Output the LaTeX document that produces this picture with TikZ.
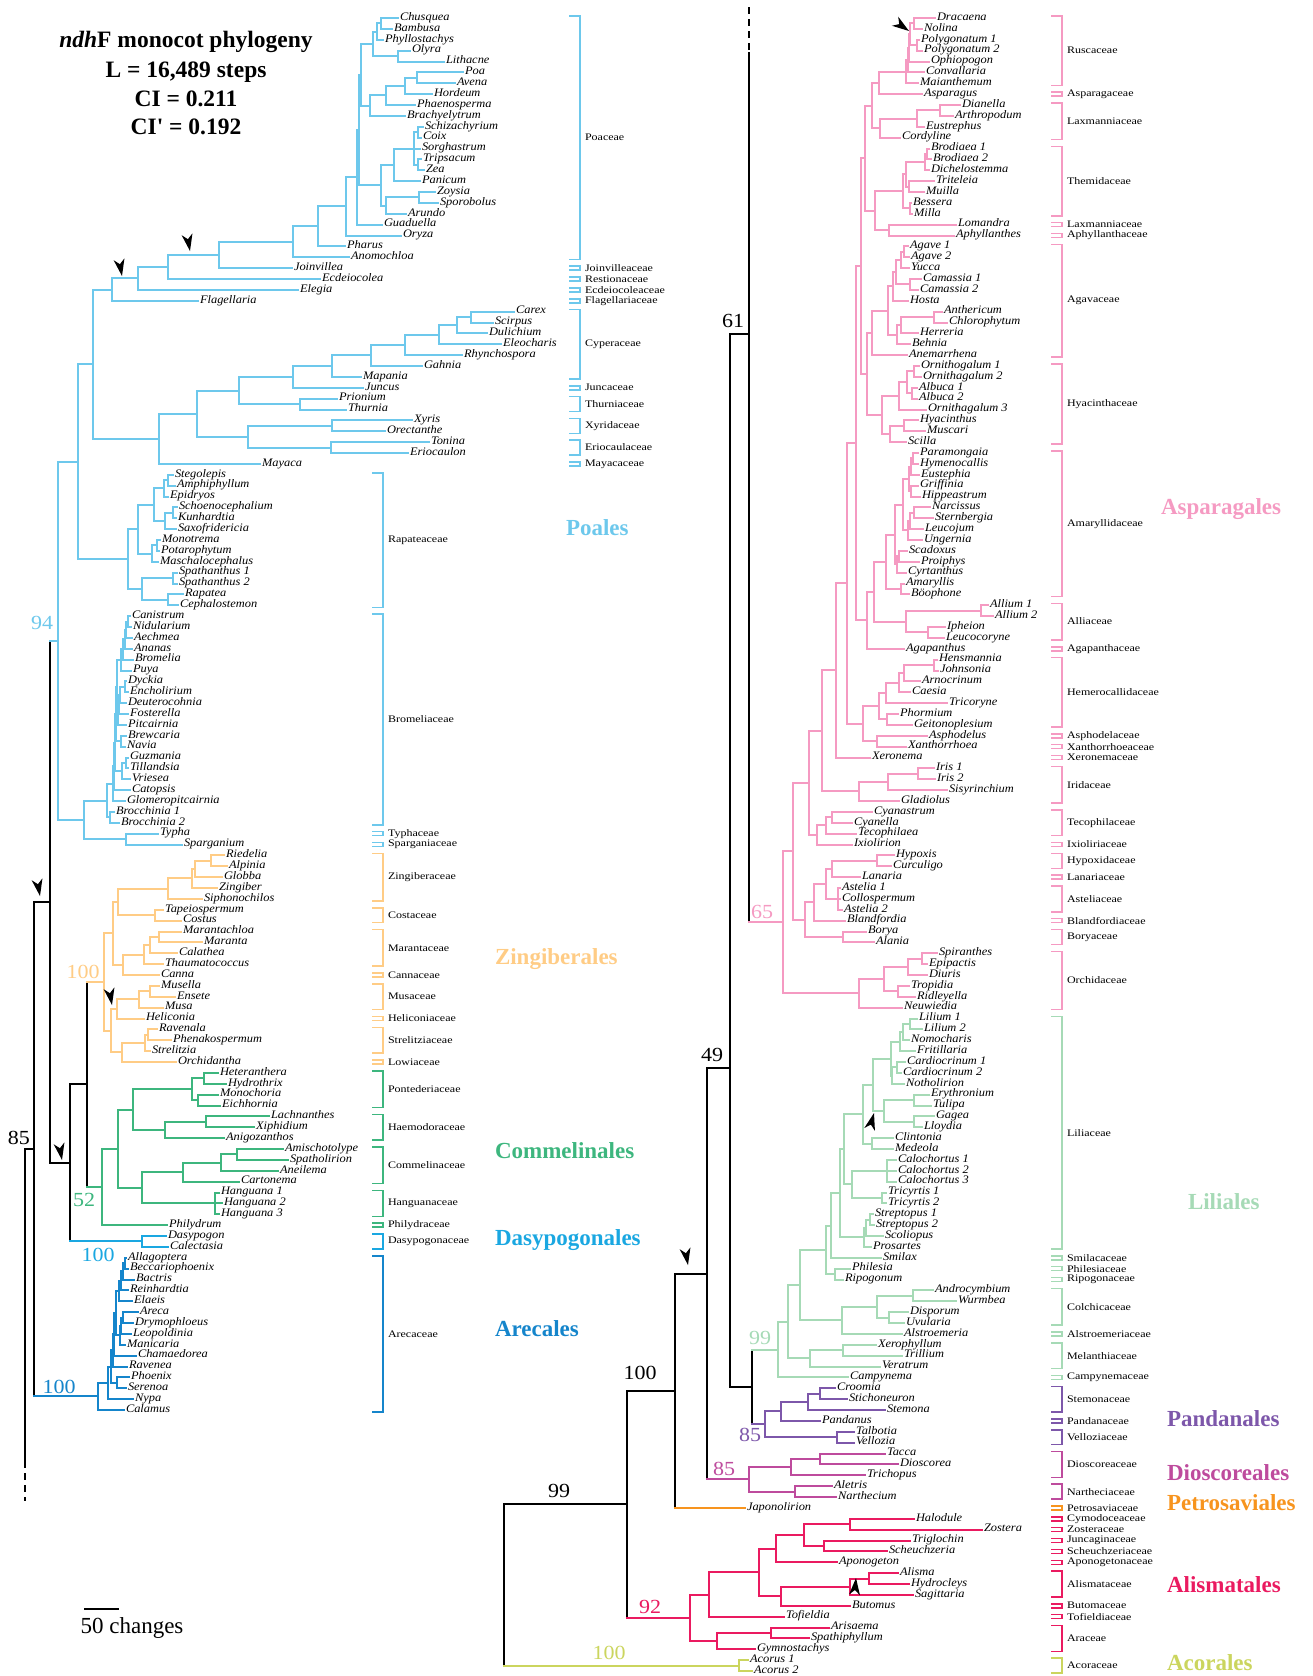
\documentclass[tikz,border=0pt]{standalone}
\usepackage{fontspec}
\setmainfont{Liberation Serif}
\newfontfamily\taxfont[FakeStretch=1.08]{Liberation Serif}
\newfontfamily\famfont[FakeStretch=1.2]{Liberation Serif}
\newfontfamily\numfont[FakeStretch=1.1]{Liberation Serif}
\usetikzlibrary{calc}

\definecolor{cpoal}{HTML}{6DC8EC}
\definecolor{czing}{HTML}{FFCC85}
\definecolor{ccomm}{HTML}{3DB67E}
\definecolor{cdasy}{HTML}{1AA7E1}
\definecolor{carec}{HTML}{1585CB}
\definecolor{caspa}{HTML}{F59AC2}
\definecolor{clili}{HTML}{A6DAB6}
\definecolor{cpand}{HTML}{7D57AA}
\definecolor{cdios}{HTML}{BE4B9D}
\definecolor{cpetr}{HTML}{F7941E}
\definecolor{calis}{HTML}{EA1A60}
\definecolor{cacor}{HTML}{CBD55E}

\newcount\rw
\newcount\fc
% leaf: name, x of tip, taxon (rows counted)
\newcommand\lf[3]{\global\advance\rw by 1
  \node[taxon] (#1) at (#2,{7.125+10.875*\the\rw}) {#3};}
% internal node: name, x, first child, last child
\newcommand\nd[4]{\path let \p1=(#3), \p2=(#4) in coordinate (#1) at ({#2pt},{0.5*(\y1+\y2)});
  \draw (#1 |- #3) -- (#1 |- #4);}
% branch from parent to child
\newcommand\st[2]{\draw (#1 |- #2) -- (#2);}
% clade: name, x, children
\newcommand\cl[3]{%
  \foreach \c [count=\i] in {#3}{\ifnum\i=1 \xdef\clf{\c}\fi\xdef\cll{\c}}%
  \edef\tmp{\noexpand\nd{#1}{#2}{\clf}{\cll}}\tmp
  \foreach \c in {#3}{\edef\tmp{\noexpand\st{#1}{\c}}\tmp}}
% family bracket: x, first row, last row, name
\newcommand\fm[4]{\global\advance\fc by 1
  \draw[famline] ({#1-10},{5.125+10.875*#2}) -- (#1,{5.125+10.875*#2})
    -- (#1,{9.125+10.875*#3}) -- ({#1-10},{9.125+10.875*#3});
  \node[fam] (fam\the\fc) at ({#1+4},{7.125+10.875*(#2+#3)/2}) {#4};}
% arrowhead marker: x, y, angle
\newcommand\mk[3]{\fill[black,shift={(#1,#2)},rotate=#3]
  (0pt,0pt) -- (-17pt,5.5pt) -- (-12pt,0pt) -- (-17pt,-5.5pt) -- cycle;}

\begin{document}
\begin{tikzpicture}[x=1pt,y=-1pt,line width=2pt,line cap=rect,
    taxon/.style={anchor=west,inner sep=1pt,text=black,text height=1.2ex,text depth=0.2ex,
      font=\taxfont\itshape\fontsize{11.5}{12}\selectfont},
    fam/.style={anchor=west,inner sep=0pt,text=black,
      font=\famfont\fontsize{10}{11}\selectfont},
    famline/.style={line width=1.5pt},
    order/.style={anchor=west,inner sep=0pt,font=\bfseries\fontsize{23}{25}\selectfont},
    bs/.style={inner sep=0pt,font=\numfont\fontsize{20}{22}\selectfont},
    ttl/.style={inner sep=0pt,font=\bfseries\fontsize{23.5}{26}\selectfont}]
  \useasboundingbox (0,0) rectangle (1313,1676);

  \node[ttl] (t1) at (186,42) {\textit{ndh}F monocot phylogeny};
  \node[ttl] (t2) at (186,72) {L = 16,489 steps};
  \node[ttl] (t3) at (186,99) {CI = 0.211};
  \node[ttl] (t4) at (186,127) {CI\textquotesingle{} = 0.192};

  %%% left panel
  \begin{scope}[color=cpoal]
    \lf{chusq}{398}{Chusquea}
    \lf{bambu}{392}{Bambusa}
    \lf{phyll}{383}{Phyllostachys}
    \lf{olyra}{410}{Olyra}
    \lf{litha}{444}{Lithacne}
    \lf{poa}{463}{Poa}
    \lf{avena}{455}{Avena}
    \lf{horde}{432}{Hordeum}
    \lf{phaen}{415}{Phaenosperma}
    \lf{brach}{405}{Brachyelytrum}
    \lf{schiz}{423}{Schizachyrium}
    \lf{coix}{421}{Coix}
    \lf{sorgh}{420}{Sorghastrum}
    \lf{trips}{421}{Tripsacum}
    \lf{zea}{424}{Zea}
    \lf{panic}{420}{Panicum}
    \lf{zoysi}{435}{Zoysia}
    \lf{sporo}{438}{Sporobolus}
    \lf{arund}{406}{Arundo}
    \lf{guadu}{382}{Guaduella}
    \lf{oryza}{401}{Oryza}
    \lf{pharu}{345}{Pharus}
    \lf{anomo}{349}{Anomochloa}
    \lf{joinv}{292}{Joinvillea}
    \lf{ecdei}{320}{Ecdeiocolea}
    \lf{elegi}{298}{Elegia}
    \lf{flage}{198}{Flagellaria}
    \lf{carex}{514}{Carex}
    \lf{scirp}{493}{Scirpus}
    \lf{dulic}{487}{Dulichium}
    \lf{eleoc}{501}{Eleocharis}
    \lf{rhync}{462}{Rhynchospora}
    \lf{gahni}{422}{Gahnia}
    \lf{mapan}{361}{Mapania}
    \lf{juncu}{363}{Juncus}
    \lf{prion}{337}{Prionium}
    \lf{thurn}{346}{Thurnia}
    \lf{xyris}{412}{Xyris}
    \lf{orect}{385}{Orectanthe}
    \lf{tonin}{429}{Tonina}
    \lf{erioc}{408}{Eriocaulon}
    \lf{mayac}{260}{Mayaca}
    \lf{stego}{173}{Stegolepis}
    \lf{amphi}{175}{Amphiphyllum}
    \lf{epidr}{168}{Epidryos}
    \lf{schoe}{177}{Schoenocephalium}
    \lf{kunha}{176}{Kunhardtia}
    \lf{saxof}{176}{Saxofridericia}
    \lf{monot}{160}{Monotrema}
    \lf{potar}{159}{Potarophytum}
    \lf{masch}{158}{Maschalocephalus}
    \lf{spatha}{177}{Spathanthus 1}
    \lf{spathb}{177}{Spathanthus 2}
    \lf{rapat}{183}{Rapatea}
    \lf{cepha}{178}{Cephalostemon}
    \lf{canis}{130}{Canistrum}
    \lf{nidul}{131}{Nidularium}
    \lf{aechm}{132}{Aechmea}
    \lf{anana}{132}{Ananas}
    \lf{brome}{133}{Bromelia}
    \lf{puya}{131}{Puya}
    \lf{dycki}{126}{Dyckia}
    \lf{encho}{128}{Encholirium}
    \lf{deute}{126}{Deuterocohnia}
    \lf{foste}{128}{Fosterella}
    \lf{pitca}{126}{Pitcairnia}
    \lf{brewc}{126}{Brewcaria}
    \lf{navia}{125}{Navia}
    \lf{guzma}{128}{Guzmania}
    \lf{tilla}{128}{Tillandsia}
    \lf{vries}{130}{Vriesea}
    \lf{catop}{130}{Catopsis}
    \lf{glome}{125}{Glomeropitcairnia}
    \lf{brocca}{114}{Brocchinia 1}
    \lf{broccb}{119}{Brocchinia 2}
    \lf{typha}{158}{Typha}
    \lf{sparg}{182}{Sparganium}
    % grasses
    \cl{cb}{381}{chusq,bambu}
    \cl{cbp}{377}{cb,phyll}
    \cl{ol}{398}{olyra,litha}
    \cl{bam}{373}{cbp,ol}
    \cl{pa}{417}{poa,avena}
    \cl{pah}{405}{pa,horde}
    \cl{pahp}{386}{pah,phaen}
    \cl{poo}{370}{pahp,brach}
    \cl{bop}{361}{bam,poo}
    \cl{sc}{418}{schiz,coix}
    \cl{tz}{418}{trips,zea}
    \cl{andr}{414}{sc,sorgh,tz}
    \cl{pani}{394}{andr,panic}
    \cl{zs}{419}{zoysi,sporo}
    \cl{zsa}{386}{zs,arund}
    \cl{pacc}{381}{pani,zsa}
    \cl{bpn}{359}{bop,pacc}
    \cl{bpg}{357}{bpn,guadu}
    \cl{bpgo}{346}{bpg,oryza}
    \cl{phar}{318}{bpgo,pharu}
    \cl{anom}{293}{phar,anomo}
    \cl{join}{219}{anom,joinv}
    \cl{ecd}{168}{join,ecdei}
    \cl{ele}{138}{ecd,elegi}
    \cl{flg}{112}{ele,flage}
    % sedges and allies
    \cl{cs}{471}{carex,scirp}
    \cl{csd}{457}{cs,dulic}
    \cl{cse}{439}{csd,eleoc}
    \cl{csr}{405}{cse,rhync}
    \cl{csg}{371}{csr,gahni}
    \cl{csm}{332}{csg,mapan}
    \cl{cyj}{293}{csm,juncu}
    \cl{prth}{300}{prion,thurn}
    \cl{cjt}{239}{cyj,prth}
    \cl{xo}{332}{xyris,orect}
    \cl{te}{331}{tonin,erioc}
    \cl{xe}{248}{xo,te}
    \cl{cx}{197}{cjt,xe}
    \cl{cxm}{159}{cx,mayac}
    \cl{grc}{93}{flg,cxm}
    % Rapateaceae
    \cl{sa}{168}{stego,amphi}
    \cl{sae}{164}{sa,epidr}
    \cl{sk}{173}{schoe,kunha}
    \cl{sks}{165}{sk,saxof}
    \cl{rab}{154}{sae,sks}
    \cl{mp}{157}{monot,potar}
    \cl{mpm}{152}{mp,masch}
    \cl{rabc}{138}{rab,mpm}
    \cl{spn}{173}{spatha,spathb}
    \cl{rc}{168}{rapat,cepha}
    \cl{sprc}{142}{spn,rc}
    \cl{rap}{128}{rabc,sprc}
    \cl{n78}{78}{grc,rap}
    % Bromeliaceae
    \cl{cn}{128}{canis,nidul}
    \cl{cna}{126}{cn,aechm}
    \cl{cnb}{125}{cna,anana}
    \cl{cnc}{123}{cnb,brome}
    \cl{cnp}{121}{cnc,puya}
    \cl{de}{125}{dycki,encho}
    \cl{ded}{120}{de,deute}
    \cl{def}{119}{ded,foste}
    \cl{dep}{118}{def,pitca}
    \cl{bn}{121}{brewc,navia}
    \cl{gt}{126}{guzma,tilla}
    \cl{gtv}{122}{gt,vries}
    \cl{bra}{117}{cnp,dep}
    \cl{brb}{116}{bra,bn}
    \cl{brc}{115}{brb,gtv}
    \cl{brd}{114}{brc,catop}
    \cl{bre}{113}{brd,glome}
    \cl{bro}{110}{brocca,broccb}
    \cl{brm}{107}{bre,bro}
    \cl{ts}{126}{typha,sparg}
    \cl{bty}{84}{brm,ts}
    \cl{poal}{58}{n78,bty}
    \fm{580}{1}{23}{Poaceae}
    \fm{580}{24}{24}{Joinvilleaceae}
    \fm{580}{25}{25}{Restionaceae}
    \fm{580}{26}{26}{Ecdeiocoleaceae}
    \fm{580}{27}{27}{Flagellariaceae}
    \fm{580}{28}{34}{Cyperaceae}
    \fm{580}{35}{35}{Juncaceae}
    \fm{580}{36}{37}{Thurniaceae}
    \fm{580}{38}{39}{Xyridaceae}
    \fm{580}{40}{41}{Eriocaulaceae}
    \fm{580}{42}{42}{Mayacaceae}
    \fm{383}{43}{55}{Rapateaceae}
    \fm{383}{56}{75}{Bromeliaceae}
    \fm{383}{76}{76}{Typhaceae}
    \fm{383}{77}{77}{Sparganiaceae}
    \node[order] (opoal) at (565,528) {Poales};
    \node[bs] (bs94) at (42,623) {94};
  \end{scope}

  \begin{scope}[color=czing]
    \lf{riede}{224}{Riedelia}
    \lf{alpin}{227}{Alpinia}
    \lf{globb}{222}{Globba}
    \lf{zingi}{217}{Zingiber}
    \lf{sipho}{202}{Siphonochilos}
    \lf{tapei}{163}{Tapeiospermum}
    \lf{costu}{181}{Costus}
    \lf{maran}{181}{Marantachloa}
    \lf{marnt}{202}{Maranta}
    \lf{calat}{177}{Calathea}
    \lf{thaum}{163}{Thaumatococcus}
    \lf{canna}{159}{Canna}
    \lf{musel}{159}{Musella}
    \lf{enset}{175}{Ensete}
    \lf{musa}{163}{Musa}
    \lf{helic}{144}{Heliconia}
    \lf{raven}{157}{Ravenala}
    \lf{phena}{171}{Phenakospermum}
    \lf{strel}{150}{Strelitzia}
    \lf{orchi}{176}{Orchidantha}
    \cl{ra}{211}{riede,alpin}
    \cl{rag}{195}{ra,globb}
    \cl{ragz}{192}{rag,zingi}
    \cl{zgb}{168}{ragz,sipho}
    \cl{tc}{155}{tapei,costu}
    \cl{zc}{118}{zgb,tc}
    \cl{mmn}{159}{maran,marnt}
    \cl{mmc}{150}{mmn,calat}
    \cl{mmt}{144}{mmc,thaum}
    \cl{mca}{123}{mmt,canna}
    \cl{zcmc}{113}{zc,mca}
    \cl{me}{150}{musel,enset}
    \cl{mem}{139}{me,musa}
    \cl{meh}{117}{mem,helic}
    \cl{rp}{148}{raven,phena}
    \cl{rps}{145}{rp,strel}
    \cl{rpo}{122}{rps,orchi}
    \cl{mhso}{111}{meh,rpo}
    \cl{zing}{104}{zcmc,mhso}
    \fm{383}{78}{82}{Zingiberaceae}
    \fm{383}{83}{84}{Costaceae}
    \fm{383}{85}{88}{Marantaceae}
    \fm{383}{89}{89}{Cannaceae}
    \fm{383}{90}{92}{Musaceae}
    \fm{383}{93}{93}{Heliconiaceae}
    \fm{383}{94}{96}{Strelitziaceae}
    \fm{383}{97}{97}{Lowiaceae}
    \node[order] (ozing) at (494,959) {Zingiberales};
    \node[bs] (bs100z) at (83,972) {100};
  \end{scope}

  \begin{scope}[color=ccomm]
    \lf{heter}{218}{Heteranthera}
    \lf{hydro}{226}{Hydrothrix}
    \lf{monoc}{218}{Monochoria}
    \lf{eichh}{220}{Eichhornia}
    \lf{lachn}{269}{Lachnanthes}
    \lf{xiphi}{254}{Xiphidium}
    \lf{anigo}{224}{Anigozanthos}
    \lf{amisc}{283}{Amischotolype}
    \lf{spatl}{288}{Spatholirion}
    \lf{aneil}{278}{Aneilema}
    \lf{carto}{239}{Cartonema}
    \lf{hanga}{219}{Hanguana 1}
    \lf{hangb}{222}{Hanguana 2}
    \lf{hangc}{219}{Hanguana 3}
    \lf{phily}{167}{Philydrum}
    \cl{hh}{204}{heter,hydro}
    \cl{mec}{198}{monoc,eichh}
    \cl{pont}{192}{hh,mec}
    \cl{lx}{206}{lachn,xiphi}
    \cl{lxa}{165}{lx,anigo}
    \cl{ph}{133}{pont,lxa}
    \cl{as}{237}{amisc,spatl}
    \cl{asa}{221}{as,aneil}
    \cl{asc}{183}{asa,carto}
    \cl{hng}{215}{hanga,hangb,hangc}
    \cl{ch}{142}{asc,hng}
    \cl{phch}{118}{ph,ch}
    \cl{comm}{102}{phch,phily}
    \fm{383}{98}{101}{Pontederiaceae}
    \fm{383}{102}{104}{Haemodoraceae}
    \fm{383}{105}{108}{Commelinaceae}
    \fm{383}{109}{111}{Hanguanaceae}
    \fm{383}{112}{112}{Philydraceae}
    \node[order] (ocomm) at (494,1151) {Commelinales};
    \node[bs] (bs52) at (84,1200) {52};
  \end{scope}

  \begin{scope}[color=cdasy]
    \lf{dasyp}{166}{Dasypogon}
    \lf{calec}{168}{Calectasia}
    \cl{dc}{142}{dasyp,calec}
    \fm{383}{113}{114}{Dasypogonaceae}
    \node[order] (odasy) at (494,1240) {Dasypogonales};
    \node[bs] (bs100d) at (98,1255) {100};
  \end{scope}

  \begin{scope}[color=carec]
    \lf{allag}{126}{Allagoptera}
    \lf{becca}{128}{Beccariophoenix}
    \lf{bactr}{134}{Bactris}
    \lf{reinh}{128}{Reinhardtia}
    \lf{elaei}{132}{Elaeis}
    \lf{areca}{138}{Areca}
    \lf{drymo}{133}{Drymophloeus}
    \lf{leopo}{131}{Leopoldinia}
    \lf{manic}{125}{Manicaria}
    \lf{chama}{136}{Chamaedorea}
    \lf{ravne}{127}{Ravenea}
    \lf{phoen}{129}{Phoenix}
    \lf{seren}{126}{Serenoa}
    \lf{nypa}{133}{Nypa}
    \lf{calam}{124}{Calamus}
    \cl{ab}{125}{allag,becca}
    \cl{abb}{123}{ab,bactr}
    \cl{abr}{121}{abb,reinh}
    \cl{abe}{119}{abr,elaei}
    \cl{ad}{123}{areca,drymo}
    \cl{adl}{121}{ad,leopo}
    \cl{adm}{120}{adl,manic}
    \cl{core}{116}{abe,adm}
    \cl{corc}{114}{core,chama}
    \cl{corr}{113}{corc,ravne}
    \cl{ps}{117}{phoen,seren}
    \cl{corp}{111}{corr,ps}
    \cl{corn}{108}{corp,nypa}
    \cl{arec}{98}{corn,calam}
    \fm{383}{115}{129}{Arecaceae}
    \node[order] (oarec) at (494,1329) {Arecales};
    \node[bs] (bs100a) at (59,1387) {100};
  \end{scope}

  % backbone, left
  \nd{nA}{87}{zing}{comm}
  \begin{scope}[color=czing] \st{nA}{zing} \end{scope}
  \begin{scope}[color=ccomm] \st{nA}{comm} \end{scope}
  \nd{nB}{70}{nA}{dc}
  \st{nB}{nA}
  \begin{scope}[color=cdasy] \st{nB}{dc} \end{scope}
  \nd{nP}{50}{poal}{nB}
  \st{nP}{nB}
  \begin{scope}[color=cpoal] \st{nP}{poal} \end{scope}
  \nd{nR}{34}{nP}{arec}
  \st{nR}{nP}
  \begin{scope}[color=carec] \st{nR}{arec} \end{scope}
  \coordinate (lroot) at ([xshift=-9pt]nR);
  \draw (lroot) -- (nR);
  \draw (lroot) -- ([yshift=-312pt]lroot) coordinate (ldash);
  \draw[line cap=butt,dash pattern=on 7pt off 5pt] (ldash) -- ([yshift=-40pt]ldash) coordinate (lend);
  \node[bs] (bs85) at (19,1138) {85};

  \coordinate (sbl) at (84,1609);
  \coordinate (sbr) at (119,1609);
  \draw[line cap=butt] (sbl) -- (sbr);
  \node[inner sep=0pt,font=\fontsize{23}{25}\selectfont] (sbt) at (132,1628) {50 changes};

  %%% right panel
  \global\rw=0
  \begin{scope}[color=caspa]
    \lf{draca}{935}{Dracaena}
    \lf{nolin}{922}{Nolina}
    \lf{polya}{919}{Polygonatum 1}
    \lf{polyb}{922}{Polygonatum 2}
    \lf{ophio}{929}{Ophiopogon}
    \lf{conva}{924}{Convallaria}
    \lf{maian}{918}{Maianthemum}
    \lf{aspar}{922}{Asparagus}
    \lf{diane}{960}{Dianella}
    \lf{arthr}{953}{Arthropodum}
    \lf{eustr}{924}{Eustrephus}
    \lf{cordy}{900}{Cordyline}
    \lf{broda}{929}{Brodiaea 1}
    \lf{brodb}{931}{Brodiaea 2}
    \lf{diche}{929}{Dichelostemma}
    \lf{trite}{934}{Triteleia}
    \lf{muill}{924}{Muilla}
    \lf{besse}{911}{Bessera}
    \lf{milla}{912}{Milla}
    \lf{loman}{956}{Lomandra}
    \lf{aphyl}{954}{Aphyllanthes}
    \lf{agava}{908}{Agave 1}
    \lf{agavb}{909}{Agave 2}
    \lf{yucca}{909}{Yucca}
    \lf{camaa}{921}{Camassia 1}
    \lf{camab}{918}{Camassia 2}
    \lf{hosta}{908}{Hosta}
    \lf{anthe}{942}{Anthericum}
    \lf{chlor}{947}{Chlorophytum}
    \lf{herre}{918}{Herreria}
    \lf{behni}{910}{Behnia}
    \lf{anema}{907}{Anemarrhena}
    \lf{ornia}{919}{Ornithogalum 1}
    \lf{ornib}{921}{Ornithagalum 2}
    \lf{albua}{917}{Albuca 1}
    \lf{albub}{917}{Albuca 2}
    \lf{ornic}{926}{Ornithagalum 3}
    \lf{hyaci}{918}{Hyacinthus}
    \lf{musca}{925}{Muscari}
    \lf{scill}{906}{Scilla}
    \lf{param}{918}{Paramongaia}
    \lf{hymen}{918}{Hymenocallis}
    \lf{euste}{919}{Eustephia}
    \lf{griff}{918}{Griffinia}
    \lf{hippe}{920}{Hippeastrum}
    \lf{narci}{930}{Narcissus}
    \lf{stern}{933}{Sternbergia}
    \lf{leucj}{923}{Leucojum}
    \lf{unger}{922}{Ungernia}
    \lf{scado}{907}{Scadoxus}
    \lf{proip}{919}{Proiphys}
    \lf{cyrta}{906}{Cyrtanthus}
    \lf{amary}{904}{Amaryllis}
    \lf{booph}{909}{Böophone}
    \lf{allia}{988}{Allium 1}
    \lf{allib}{993}{Allium 2}
    \lf{iphei}{945}{Ipheion}
    \lf{leucc}{944}{Leucocoryne}
    \lf{agapa}{904}{Agapanthus}
    \lf{hensm}{937}{Hensmannia}
    \lf{johns}{938}{Johnsonia}
    \lf{arnoc}{920}{Arnocrinum}
    \lf{caesi}{910}{Caesia}
    \lf{trico}{947}{Tricoryne}
    \lf{phorm}{898}{Phormium}
    \lf{geito}{912}{Geitonoplesium}
    \lf{aspho}{927}{Asphodelus}
    \lf{xanth}{906}{Xanthorrhoea}
    \lf{xeron}{870}{Xeronema}
    \lf{irisa}{934}{Iris 1}
    \lf{irisb}{935}{Iris 2}
    \lf{sisyr}{947}{Sisyrinchium}
    \lf{gladi}{899}{Gladiolus}
    \lf{cyanm}{872}{Cyanastrum}
    \lf{cyanl}{852}{Cyanella}
    \lf{tecop}{856}{Tecophilaea}
    \lf{ixiol}{852}{Ixiolirion}
    \lf{hypox}{894}{Hypoxis}
    \lf{curcu}{891}{Curculigo}
    \lf{lanar}{860}{Lanaria}
    \lf{astea}{840}{Astelia 1}
    \lf{collo}{840}{Collospermum}
    \lf{asteb}{842}{Astelia 2}
    \lf{bland}{845}{Blandfordia}
    \lf{borya}{866}{Borya}
    \lf{alani}{874}{Alania}
    \lf{spira}{937}{Spiranthes}
    \lf{epipa}{927}{Epipactis}
    \lf{diuri}{927}{Diuris}
    \lf{tropi}{909}{Tropidia}
    \lf{ridle}{915}{Ridleyella}
    \lf{neuwi}{902}{Neuwiedia}
    \cl{dn}{914}{draca,nolin}
    \cl{pp}{917}{polya,polyb}
    \cl{dnpp}{910}{dn,pp}
    \cl{dno}{909}{dnpp,ophio}
    \cl{dnc}{908}{dno,conva}
    \cl{rusc}{906}{dnc,maian}
    \cl{rasp}{879}{rusc,aspar}
    \cl{da}{940}{diane,arthr}
    \cl{dae}{917}{da,eustr}
    \cl{lax}{880}{dae,cordy}
    \cl{rl}{872}{rasp,lax}
    \cl{bb}{927}{broda,brodb}
    \cl{bbd}{925}{bb,diche}
    \cl{tm}{909}{trite,muill}
    \cl{bbt}{906}{bbd,tm}
    \cl{bm}{910}{besse,milla}
    \cl{them}{903}{bbt,bm}
    \cl{la}{889}{loman,aphyl}
    \cl{tla}{875}{them,la}
    \cl{rltl}{865}{rl,tla}
    \cl{aa}{904}{agava,agavb}
    \cl{aay}{901}{aa,yucca}
    \cl{cam}{910}{camaa,camab}
    \cl{aac}{896}{aay,cam}
    \cl{aah}{893}{aac,hosta}
    \cl{ac}{934}{anthe,chlor}
    \cl{ach}{901}{ac,herre}
    \cl{acb}{897}{ach,behni}
    \cl{agv}{888}{aah,acb}
    \cl{agav}{872}{agv,anema}
    \cl{oo}{914}{ornia,ornib}
    \cl{alb}{912}{albua,albub}
    \cl{ooa}{907}{oo,alb}
    \cl{ooo}{899}{ooa,ornic}
    \cl{hm}{904}{hyaci,musca}
    \cl{hms}{890}{hm,scill}
    \cl{hyac}{882}{ooo,hms}
    \cl{agh}{867}{agav,hyac}
    \cl{upp}{861}{rltl,agh}
    \cl{ph1}{913}{param,hymen}
    \cl{phe}{911}{ph1,euste}
    \cl{gh}{911}{griff,hippe}
    \cl{phg}{909}{phe,gh}
    \cl{ns}{914}{narci,stern}
    \cl{nsl}{910}{ns,leucj}
    \cl{nsu}{908}{nsl,unger}
    \cl{phn}{903}{phg,nsu}
    \cl{sp2}{899}{scado,proip}
    \cl{spc}{897}{sp2,cyrta}
    \cl{phs}{895}{phn,spc}
    \cl{ab2}{901}{amary,booph}
    \cl{amar}{886}{phs,ab2}
    \cl{all}{981}{allia,allib}
    \cl{il}{928}{iphei,leucc}
    \cl{alli}{906}{all,il}
    \cl{aal}{874}{amar,alli}
    \cl{aag}{867}{aal,agapa}
    \cl{n856}{856}{upp,aag}
    \cl{hj}{934}{hensm,johns}
    \cl{hja}{904}{hj,arnoc}
    \cl{hjc}{899}{hja,caesi}
    \cl{hjt}{886}{hjc,trico}
    \cl{pg}{887}{phorm,geito}
    \cl{hem}{879}{hjt,pg}
    \cl{ax}{877}{aspho,xanth}
    \cl{hax}{863}{hem,ax}
    \cl{n847}{847}{n856,hax}
    \cl{n836}{836}{n847,xeron}
    \cl{ii}{918}{irisa,irisb}
    \cl{iis}{888}{ii,sisyr}
    \cl{irid}{859}{iis,gladi}
    \cl{n822}{822}{n836,irid}
    \cl{cc2}{832}{cyanm,cyanl}
    \cl{cct}{826}{cc2,tecop}
    \cl{cci}{817}{cct,ixiol}
    \cl{n809}{809}{n822,cci}
    \cl{hc}{877}{hypox,curcu}
    \cl{hcl}{832}{hc,lanar}
    \cl{ast}{838}{astea,collo,asteb}
    \cl{hla}{826}{hcl,ast}
    \cl{hlb}{814}{hla,bland}
    \cl{ba}{843}{borya,alani}
    \cl{hyp}{805}{hlb,ba}
    \cl{n793}{793}{n809,hyp}
    \cl{se}{922}{spira,epipa}
    \cl{sed}{908}{se,diuri}
    \cl{tr}{898}{tropi,ridle}
    \cl{sedt}{884}{sed,tr}
    \cl{orch}{859}{sedt,neuwi}
    \cl{aspg}{783}{n793,orch}
    \fm{1062}{1}{7}{Ruscaceae}
    \fm{1062}{8}{8}{Asparagaceae}
    \fm{1062}{9}{12}{Laxmanniaceae}
    \fm{1062}{13}{19}{Themidaceae}
    \fm{1062}{20}{20}{Laxmanniaceae}
    \fm{1062}{21}{21}{Aphyllanthaceae}
    \fm{1062}{22}{32}{Agavaceae}
    \fm{1062}{33}{40}{Hyacinthaceae}
    \fm{1062}{41}{54}{Amaryllidaceae}
    \fm{1062}{55}{58}{Alliaceae}
    \fm{1062}{59}{59}{Agapanthaceae}
    \fm{1062}{60}{66}{Hemerocallidaceae}
    \fm{1062}{67}{67}{Asphodelaceae}
    \fm{1062}{68}{68}{Xanthorrhoeaceae}
    \fm{1062}{69}{69}{Xeronemaceae}
    \fm{1062}{70}{73}{Iridaceae}
    \fm{1062}{74}{76}{Tecophilaceae}
    \fm{1062}{77}{77}{Ixioliriaceae}
    \fm{1062}{78}{79}{Hypoxidaceae}
    \fm{1062}{80}{80}{Lanariaceae}
    \fm{1062}{81}{83}{Asteliaceae}
    \fm{1062}{84}{84}{Blandfordiaceae}
    \fm{1062}{85}{86}{Boryaceae}
    \fm{1062}{87}{92}{Orchidaceae}
    \node[order] (oaspa) at (1160,509) {Asparagales};
    \node[bs] (bs65) at (762,912) {65};
  \end{scope}

  \begin{scope}[color=clili]
    \lf{lilia}{917}{Lilium 1}
    \lf{lilib}{922}{Lilium 2}
    \lf{nomoc}{909}{Nomocharis}
    \lf{friti}{915}{Fritillaria}
    \lf{carda}{905}{Cardiocrinum 1}
    \lf{cardb}{901}{Cardiocrinum 2}
    \lf{notho}{904}{Notholirion}
    \lf{eryth}{929}{Erythronium}
    \lf{tulip}{931}{Tulipa}
    \lf{gagea}{934}{Gagea}
    \lf{lloyd}{922}{Lloydia}
    \lf{clint}{893}{Clintonia}
    \lf{medeo}{893}{Medeola}
    \lf{calca}{896}{Calochortus 1}
    \lf{calcb}{896}{Calochortus 2}
    \lf{calcc}{896}{Calochortus 3}
    \lf{trica}{886}{Tricyrtis 1}
    \lf{tricb}{886}{Tricyrtis 2}
    \lf{strea}{873}{Streptopus 1}
    \lf{streb}{874}{Streptopus 2}
    \lf{scoli}{883}{Scoliopus}
    \lf{prosa}{871}{Prosartes}
    \lf{smila}{881}{Smilax}
    \lf{phile}{850}{Philesia}
    \lf{ripog}{843}{Ripogonum}
    \lf{andro}{933}{Androcymbium}
    \lf{wurmb}{956}{Wurmbea}
    \lf{dispo}{908}{Disporum}
    \lf{uvula}{904}{Uvularia}
    \lf{alstr}{902}{Alstroemeria}
    \lf{xerop}{876}{Xerophyllum}
    \lf{trill}{902}{Trillium}
    \lf{verat}{880}{Veratrum}
    \lf{campy}{848}{Campynema}
    \cl{ll}{910}{lilia,lilib}
    \cl{lln}{903}{ll,nomoc}
    \cl{llf}{900}{lln,friti}
    \cl{cd}{897}{carda,cardb}
    \cl{cdn}{892}{cd,notho}
    \cl{lc}{891}{llf,cdn}
    \cl{et}{914}{eryth,tulip}
    \cl{gl}{914}{gagea,lloyd}
    \cl{etg}{884}{et,gl}
    \cl{lce}{873}{lc,etg}
    \cl{cme}{872}{clint,medeo}
    \cl{lil}{863}{lce,cme}
    \cl{cal}{887}{calca,calcb,calcc}
    \cl{trc}{882}{trica,tricb}
    \cl{ctr}{852}{cal,trc}
    \cl{sts}{870}{strea,streb}
    \cl{sso}{866}{sts,scoli}
    \cl{ssp}{864}{sso,prosa}
    \cl{lct}{844}{lil,ctr}
    \cl{lcs}{840}{lct,ssp}
    \cl{lsm}{831}{lcs,smila}
    \cl{pr}{835}{phile,ripog}
    \cl{lpr}{826}{lsm,pr}
    \cl{aw}{913}{andro,wurmb}
    \cl{du}{889}{dispo,uvula}
    \cl{awd}{877}{aw,du}
    \cl{col}{842}{awd,alstr}
    \cl{lpc}{800}{lpr,col}
    \cl{xt}{843}{xerop,trill}
    \cl{xtv}{810}{xt,verat}
    \cl{lpm}{788}{lpc,xtv}
    \cl{lili}{778}{lpm,campy}
    \fm{1062}{93}{114}{Liliaceae}
    \fm{1062}{115}{115}{Smilacaceae}
    \fm{1062}{116}{116}{Philesiaceae}
    \fm{1062}{117}{117}{Ripogonaceae}
    \fm{1062}{118}{121}{Colchicaceae}
    \fm{1062}{122}{122}{Alstroemeriaceae}
    \fm{1062}{123}{125}{Melanthiaceae}
    \fm{1062}{126}{126}{Campynemaceae}
    \node[order] (olili) at (1187,1202) {Liliales};
    \node[bs] (bs99l) at (760,1338) {99};
  \end{scope}

  \begin{scope}[color=cpand]
    \lf{croom}{835}{Croomia}
    \lf{stich}{847}{Stichoneuron}
    \lf{stemo}{885}{Stemona}
    \lf{panda}{820}{Pandanus}
    \lf{talbo}{854}{Talbotia}
    \lf{vello}{854}{Vellozia}
    \cl{cs2}{820}{croom,stich}
    \cl{css}{808}{cs2,stemo}
    \cl{csp}{781}{css,panda}
    \cl{tv}{837}{talbo,vello}
    \cl{pand}{765}{csp,tv}
    \fm{1062}{127}{129}{Stemonaceae}
    \fm{1062}{130}{130}{Pandanaceae}
    \fm{1062}{131}{132}{Velloziaceae}
    \node[order] (opand) at (1166,1419) {Pandanales};
    \node[bs] (bs85p) at (750,1435) {85};
  \end{scope}

  \begin{scope}[color=cdios]
    \lf{tacca}{885}{Tacca}
    \lf{diosc}{898}{Dioscorea}
    \lf{trich}{865}{Trichopus}
    \lf{aletr}{832}{Aletris}
    \lf{narth}{836}{Narthecium}
    \cl{td}{820}{tacca,diosc}
    \cl{tdt}{791}{td,trich}
    \cl{an}{795}{aletr,narth}
    \cl{dios}{749}{tdt,an}
    \fm{1062}{133}{135}{Dioscoreaceae}
    \fm{1062}{136}{137}{Nartheciaceae}
    \node[order] (odios) at (1166,1473) {Dioscoreales};
    \node[bs] (bs85d) at (724,1469) {85};
  \end{scope}

  \begin{scope}[color=cpetr]
    \lf{japon}{745}{Japonolirion}
    \fm{1062}{138}{138}{Petrosaviaceae}
    \node[order] (opetr) at (1166,1503) {Petrosaviales};
  \end{scope}

  \begin{scope}[color=calis]
    \lf{halod}{914}{Halodule}
    \lf{zoste}{982}{Zostera}
    \lf{trigl}{910}{Triglochin}
    \lf{scheu}{887}{Scheuchzeria}
    \lf{apono}{837}{Aponogeton}
    \lf{alism}{898}{Alisma}
    \lf{hydrc}{909}{Hydrocleys}
    \lf{sagit}{913}{Sagittaria}
    \lf{butom}{850}{Butomus}
    \lf{tofie}{784}{Tofieldia}
    \lf{arisa}{829}{Arisaema}
    \lf{spaty}{809}{Spathiphyllum}
    \lf{gymno}{755}{Gymnostachys}
    \cl{hz}{850}{halod,zoste}
    \cl{tsc}{824}{trigl,scheu}
    \cl{hzt}{804}{hz,tsc}
    \cl{hza}{776}{hzt,apono}
    \cl{ah}{869}{alism,hydrc}
    \cl{ahs}{850}{ah,sagit}
    \cl{ahb}{781}{ahs,butom}
    \cl{alb2}{759}{hza,ahb}
    \cl{alt}{709}{alb2,tofie}
    \cl{asp2}{771}{arisa,spaty}
    \cl{asg}{717}{asp2,gymno}
    \cl{alis}{690}{alt,asg}
    \fm{1062}{139}{139}{Cymodoceaceae}
    \fm{1062}{140}{140}{Zosteraceae}
    \fm{1062}{141}{141}{Juncaginaceae}
    \fm{1062}{142}{142}{Scheuchzeriaceae}
    \fm{1062}{143}{143}{Aponogetonaceae}
    \fm{1062}{144}{146}{Alismataceae}
    \fm{1062}{147}{147}{Butomaceae}
    \fm{1062}{148}{148}{Tofieldiaceae}
    \fm{1062}{149}{151}{Araceae}
    \node[order] (oalis) at (1166,1585) {Alismatales};
    \node[bs] (bs92) at (650,1607) {92};
  \end{scope}

  \begin{scope}[color=cacor]
    \lf{acora}{748}{Acorus 1}
    \lf{acorb}{752}{Acorus 2}
    \cl{acor}{739}{acora,acorb}
    \fm{1062}{152}{153}{Acoraceae}
    \node[order] (oacor) at (1166,1663) {Acorales};
    \node[bs] (bs100c) at (609,1653) {100};
  \end{scope}

  % backbone, right
  \coordinate (rtop) at (749,7);
  \coordinate (rdash) at (749,53);
  \coordinate (c749) at (749,334);
  \draw[line cap=butt,dash pattern=on 7pt off 5pt] (rtop) -- (rdash);
  \draw (rdash) -- (c749 |- aspg);
  \begin{scope}[color=caspa] \st{c749}{aspg} \end{scope}
  \nd{c752}{752}{lili}{pand}
  \begin{scope}[color=clili] \st{c752}{lili} \end{scope}
  \begin{scope}[color=cpand] \st{c752}{pand} \end{scope}
  \coordinate (c730) at (730,1068);
  \draw (c730 |- c749) -- (c730 |- c752);
  \st{c730}{c749}
  \st{c730}{c752}
  \nd{c707}{707}{c730}{dios}
  \st{c707}{c730}
  \begin{scope}[color=cdios] \st{c707}{dios} \end{scope}
  \nd{c675}{675}{c707}{japon}
  \st{c675}{c707}
  \begin{scope}[color=cpetr] \st{c675}{japon} \end{scope}
  \nd{c627}{627}{c675}{alis}
  \st{c627}{c675}
  \begin{scope}[color=calis] \st{c627}{alis} \end{scope}
  \nd{c504}{504}{c627}{acor}
  \st{c504}{c627}
  \begin{scope}[color=cacor] \st{c504}{acor} \end{scope}
  \node[bs] (bs61) at (733,321) {61};
  \node[bs] (bs49) at (712,1055) {49};
  \node[bs] (bs100b) at (640,1373) {100};
  \node[bs] (bs99b) at (559,1491) {99};

  % markers
  \mk{190}{251}{-80}
  \mk{122}{276}{-80}
  \mk{40}{896}{-80}
  \mk{112}{1005}{-80}
  \mk{62}{1160}{-80}
  \mk{909}{31}{-35}
  \mk{874}{1113}{75}
  \mk{688}{1265}{-80}
  \mk{856}{1578}{85}
\end{tikzpicture}
\end{document}
